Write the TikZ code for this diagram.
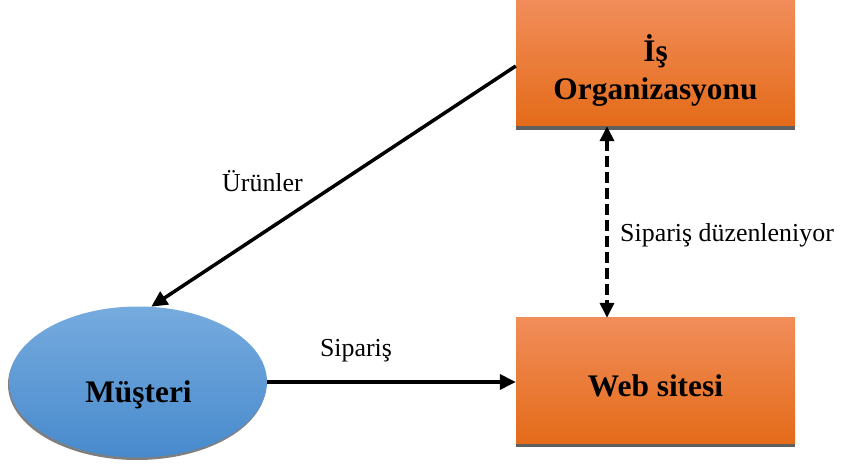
\documentclass[tikz,border=0pt]{standalone}
\usepackage{fontspec}
\setmainfont{Liberation Serif}
\usetikzlibrary{shapes.geometric,shadows,arrows.meta}

\definecolor{orTop}{RGB}{241,141,90}
\definecolor{orMid}{RGB}{242,126,42}
\definecolor{orBot}{RGB}{228,107,25}
\definecolor{blTop}{RGB}{118,171,222}
\definecolor{blMid}{RGB}{94,154,215}
\definecolor{blBot}{RGB}{72,138,205}
\definecolor{shade}{RGB}{95,95,95}

\tikzset{
  orangebox/.style={rectangle, minimum width=279bp, minimum height=125bp, inner sep=0pt,
    top color=orTop, middle color=orMid, bottom color=orBot,
    drop shadow={shadow xshift=0bp, shadow yshift=-4bp, fill=shade, opacity=1}},
  blueoval/.style={ellipse, minimum width=258bp, minimum height=151bp, inner sep=0pt,
    top color=blTop, middle color=blMid, bottom color=blBot,
    drop shadow={shadow xshift=-1bp, shadow yshift=-2.5bp, fill=shade, opacity=0.8}},
  title/.style={font=\bfseries\fontsize{31.5}{38}\selectfont, inner sep=0pt, anchor=base},
  lbl/.style={font=\fontsize{26}{30}\selectfont, inner sep=0pt},
  flow/.style={line width=3.5bp, -{Triangle[length=16bp,width=15bp]}},
  twoway/.style={line width=3.5bp, {Triangle[length=15bp,width=14bp]}-{Triangle[length=15bp,width=14bp]},
    dash pattern=on 11bp off 5bp}
}

\begin{document}
\begin{tikzpicture}[x=1bp,y=-1bp]
  \useasboundingbox (0,0) rectangle (841,464);

  % process boxes and the customer
  \node[orangebox] (org) at (655.5,63.5) {};
  \node[orangebox] (web) at (655.5,380.5) {};
  \node[blueoval] (cust) at (138,382) {};

  % their titles
  \node[title] (orgT1) at (655.5,62) {İş};
  \node[title] (orgT2) at (655.5,100) {Organizasyonu};
  \node[title] (webT) at (655.5,396.5) {Web sitesi};
  \node[title] (custT) at (138.5,402.5) {Müşteri};

  % flows
  \draw[flow] ([yshift=-2.5bp]org.west) -- (cust.80);
  \draw[flow] (cust.east) -- (cust.east -| web.west);
  \draw[twoway] ([xshift=-48.5bp]org.south) -- ([xshift=-48.5bp]web.north);

  % flow labels
  \node[lbl, anchor=base] (lblUrun) at (262.5,192) {Ürünler};
  \node[lbl, anchor=base] (lblSip) at (356,357) {Sipariş};
  \node[lbl, anchor=base west] (lblDuz) at (620,242) {Sipariş düzenleniyor};
\end{tikzpicture}
\end{document}
